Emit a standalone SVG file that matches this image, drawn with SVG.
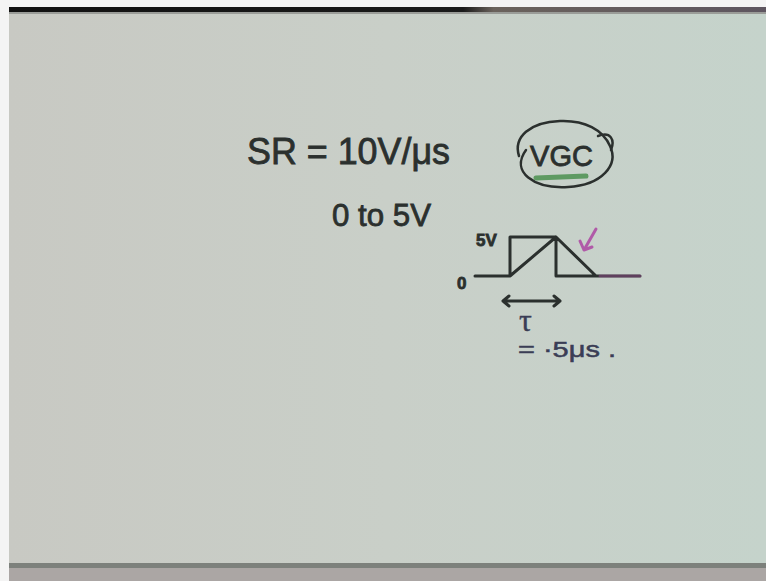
<svg xmlns="http://www.w3.org/2000/svg" width="766" height="581" viewBox="0 0 766 581">
  <defs>
    <linearGradient id="board" x1="0" y1="0" x2="1" y2="0">
      <stop offset="0" stop-color="#c8c9c3"/>
      <stop offset="0.5" stop-color="#c9cfc8"/>
      <stop offset="1" stop-color="#c5d3cb"/>
    </linearGradient>
    <linearGradient id="topbar" x1="0" y1="0" x2="1" y2="0">
      <stop offset="0" stop-color="#111"/>
      <stop offset="0.6" stop-color="#1a1a1a"/>
      <stop offset="0.64" stop-color="#6a625c"/>
      <stop offset="1" stop-color="#5e5660"/>
    </linearGradient>
    <style>
      .ink { fill: none; stroke: #2b302e; stroke-width: 3; stroke-linecap: round; stroke-linejoin: round; }
      .txt { font-family: "Liberation Sans", "DejaVu Sans", sans-serif; fill: #2b302e; stroke: #2b302e; stroke-width: 0.8; }
      .navy { font-family: "Liberation Sans", "DejaVu Sans", sans-serif; fill: #3a3d55; stroke: #3a3d55; stroke-width: 0.5; }
      .pink { fill: none; stroke: #b05aa8; stroke-width: 3; stroke-linecap: round; stroke-linejoin: round; }
    </style>
  </defs>

  <!-- frame -->
  <rect x="0" y="0" width="766" height="581" fill="#f4f4f4"/>
  <rect x="9" y="10" width="757" height="556" fill="url(#board)"/>
  <rect x="9" y="7" width="757" height="5" fill="url(#topbar)"/>
  <rect x="9" y="12" width="757" height="2" fill="#9a9c98"/>
  <rect x="9" y="563" width="757" height="5" fill="#7d817c"/>
  <rect x="9" y="568" width="757" height="13" fill="#aba6a4"/>

  <!-- SR = 10V/μs -->
  <g id="sr">
    <text class="txt" x="247" y="164" font-size="36" textLength="203" lengthAdjust="spacingAndGlyphs">SR = 10V/μs</text>
  </g>

  <!-- VGC circled -->
  <g id="vgc">
    <path d="M 526 150 C 510 172 534 189 568 187 C 602 185 619 165 610 146 C 603 130 585 120 560 121 C 530 122 513 137 519 156" fill="none" stroke="#2b302e" stroke-width="2.5" stroke-linecap="round"/>
    <path d="M 598 136 C 611 131 615 140 611 150" fill="none" stroke="#2b302e" stroke-width="2.5" stroke-linecap="round"/>
    <text class="txt" x="530" y="166" font-size="29" textLength="63" lengthAdjust="spacing">VGC</text>
    <path d="M 536 178 L 586 176" fill="none" stroke="#5e9a62" stroke-width="5" stroke-linecap="round"/>
  </g>

  <!-- 0 to 5V -->
  <g id="range">
    <text class="txt" x="332" y="226" font-size="32" textLength="99" lengthAdjust="spacingAndGlyphs">0 to 5V</text>
  </g>

  <!-- waveform -->
  <g id="waveform">
    <text class="txt" x="476" y="246" font-size="17" font-weight="bold" stroke-width="0">5V</text>
    <text class="txt" x="457" y="289" font-size="17" font-weight="bold" stroke-width="0">0</text>
    <path class="ink" d="M 475 276 L 510 276 L 510 237 L 556 237 L 556 276 L 596 276 M 510 276 L 556 237 L 596 276 L 640 276"/>
    <path class="pink" d="M 596 229 L 584 250 M 580 241 L 584 250 L 592 247"/>
    <path class="pink" d="M 600 276 L 640 276" stroke-width="1.2" stroke-opacity="0.4"/>
  </g>

  <!-- tau annotation -->
  <g id="tau">
    <path class="ink" d="M 503 301 L 560 301 M 509 296 L 503 301 L 509 306 M 554 296 L 560 301 L 554 306" stroke-width="2.5"/>
    <text class="navy" x="519" y="331" font-size="32" style="font-family: 'Liberation Serif', 'DejaVu Serif', serif; stroke-width: 0.4">τ</text>
    <text class="navy" x="518" y="357" font-size="22" textLength="98" lengthAdjust="spacingAndGlyphs">= ·5μs .</text>
  </g>
</svg>
